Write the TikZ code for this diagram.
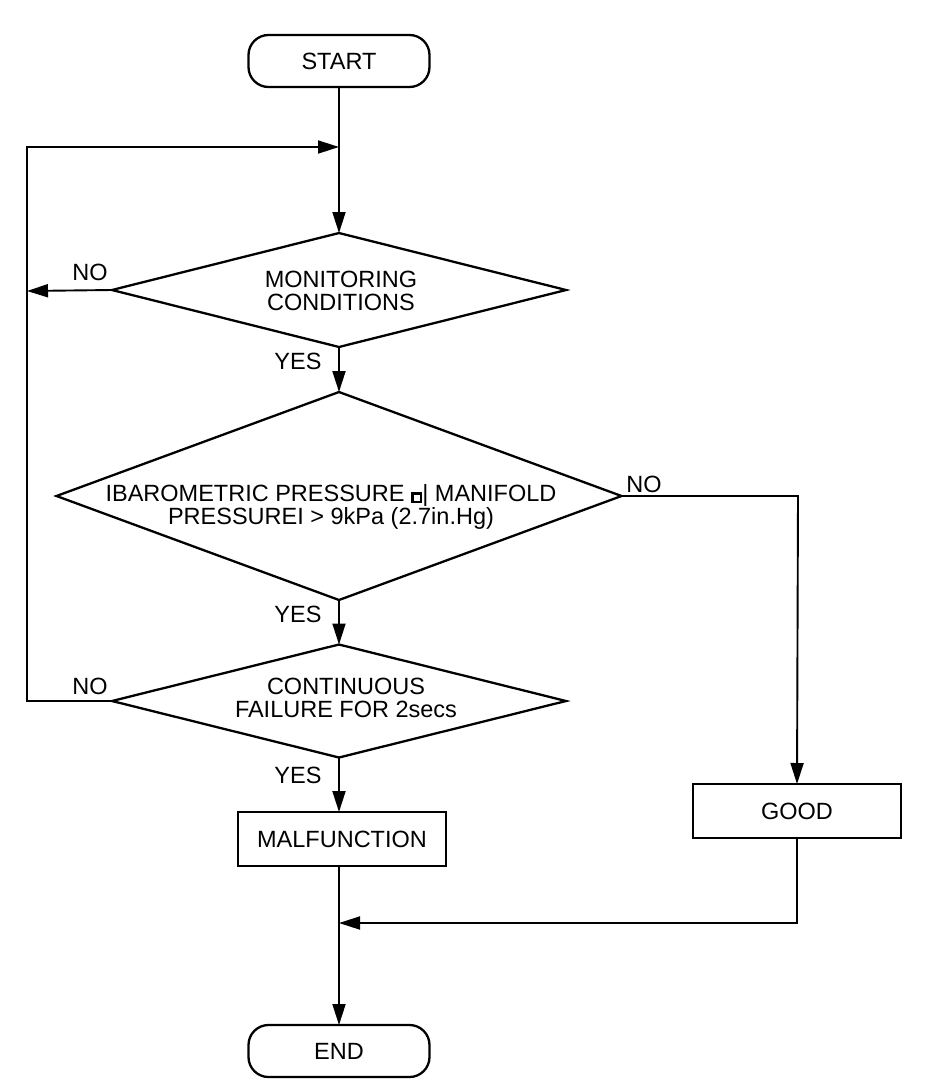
\documentclass[tikz,border=0pt]{standalone}
\usepackage{fontspec}
\setmainfont{Liberation Sans}
\usetikzlibrary{arrows.meta,shapes.geometric}
\newcommand{\sqglyph}{{\setlength\fboxrule{2.6pt}\setlength\fboxsep{0pt}\raisebox{1pt}{\fbox{\rule{0pt}{6pt}\hspace{6pt}}}}}
\begin{document}
\begin{tikzpicture}[x=1pt,y=-1pt,
  every node/.style={font=\fontsize{23.5}{22.5}\selectfont},
  line width=2.3pt,
  term/.style={draw, rounded corners=20pt, minimum width=181pt, minimum height=52pt, inner sep=0pt, outer sep=0pt},
  procbox/.style={draw, minimum width=208pt, minimum height=54pt, inner sep=0pt, outer sep=0pt},
  dia/.style={draw, diamond, inner sep=0pt, outer sep=0pt},
  txt/.style={align=center, inner sep=0pt},
  lbl/.style={inner sep=0pt},
  arr/.style={-{Triangle[length=21pt,width=13pt]}},
  conn/.style={line width=1.9pt}]
\useasboundingbox (0,0) rectangle (928,1092);

% nodes
\node[term] (start) at (339,61) {START};
\node[dia, minimum width=454pt, minimum height=114pt] (d1) at (339,290) {};
\node[txt] (t1) at (341,291) {MONITORING\\CONDITIONS};
\node[dia, minimum width=565pt, minimum height=208pt] (d2) at (339,496) {};
\node[txt] (t2) at (331,507) {IBAROMETRIC PRESSURE \sqglyph| MANIFOLD\\PRESSUREI > 9kPa (2.7in.Hg)};
\node[dia, minimum width=454pt, minimum height=113pt] (d3) at (339,701) {};
\node[txt] (t3) at (346,698) {CONTINUOUS\\FAILURE FOR 2secs};
\node[procbox] (mal) at (342,839) {MALFUNCTION};
\node[procbox] (good) at (797,811) {GOOD};
\node[term] (end) at (339,1051) {END};

% labels
\node[lbl] (no1) at (90,272) {NO};
\node[lbl] (yes1) at (298,361) {YES};
\node[lbl] (no2) at (644,484) {NO};
\node[lbl] (yes2) at (298,614) {YES};
\node[lbl] (no3) at (90,686) {NO};
\node[lbl] (yes3) at (298,775) {YES};

% helper coordinates
\coordinate (loopTop) at (339,147);
\coordinate (leftTop) at (27,147);
\coordinate (leftMid) at (27,291);
\coordinate (leftBot) at (27,701);
\coordinate (rightTop) at (798,496);
\coordinate (merge) at (339,923);

% connectors
\draw[conn, arr] (start.south) -- (d1.north);
\draw[conn, arr] (d1.west) -- (leftMid);
\draw[conn, arr] (d3.west) -- (leftBot) -- (leftTop) -- (loopTop);
\draw[conn, arr] (d1.south) -- (d2.north);
\draw[conn, arr] (d2.south) -- (d3.north);
\draw[conn, arr] (d2.east) -- (rightTop) -- (good.north);
\draw[conn, arr] (d3.south) -- (d3.south |- mal.north);
\draw[conn, arr] (good.south) |- (merge);
\draw[conn, arr] (mal.south -| merge) -- (end.north);
\end{tikzpicture}
\end{document}
